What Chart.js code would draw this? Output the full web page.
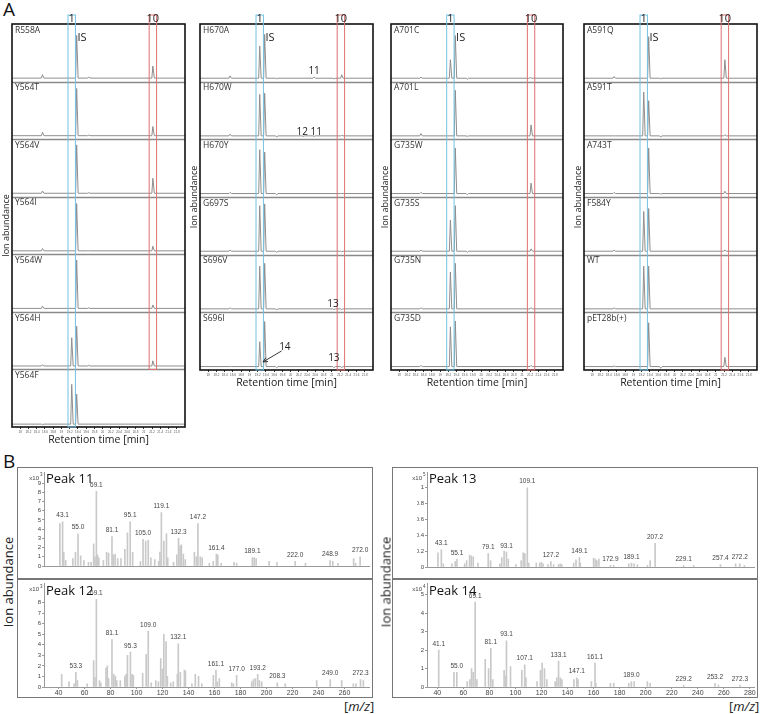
<!DOCTYPE html>
<html>
<head>
<meta charset="utf-8">
<script src="https://cdn.jsdelivr.net/npm/chart.js@4.4.1/dist/chart.umd.min.js"></script>
<style>
  body { margin: 0; width: 760px; height: 714px; background: #fff; position: relative; overflow: hidden;
         font-family: 'Open Sans', 'Noto Sans', sans-serif; }
  canvas { position: absolute; }
  .letter { position: absolute; font-size: 19px; color: #111; line-height: 1; }
  .frame { position: absolute; border: 1.5px solid #777; box-sizing: border-box; }
  .rule { position: absolute; height: 1.5px; background: #777; }
  .mz { position: absolute; font-size: 13px; color: #222; line-height: 1; }
  .ylab { position: absolute; font-size: 13px; color: #222; line-height: 1; white-space: nowrap;
          transform: translate(-50%, -50%) rotate(-90deg); }
</style>
</head>
<body>
<div class="letter" style="left:3px;top:0px">A</div>
<div class="letter" style="left:3px;top:452px">B</div>

<canvas id="col1" width="188" height="450" style="left:0;top:0"></canvas>
<canvas id="col2" width="186" height="393" style="left:190px;top:0"></canvas>
<canvas id="col3" width="186" height="393" style="left:380px;top:0"></canvas>
<canvas id="col4" width="188" height="393" style="left:572px;top:0"></canvas>

<div class="frame" style="left:17px;top:467px;width:356px;height:231px"></div>
<div class="frame" style="left:392px;top:467px;width:366px;height:231px"></div>
<canvas id="pk11" width="355" height="112" style="left:17px;top:467px"></canvas>
<canvas id="pk12" width="355" height="118" style="left:17px;top:579px"></canvas>
<canvas id="pk13" width="365" height="112" style="left:392px;top:467px"></canvas>
<canvas id="pk14" width="365" height="118" style="left:392px;top:579px"></canvas>
<div class="rule" style="left:17px;top:578px;width:356px"></div>
<div class="rule" style="left:392px;top:578px;width:366px"></div>
<div class="mz" style="left:344px;top:700px">[<i>m/z</i>]</div>
<div class="mz" style="left:729px;top:700px">[<i>m/z</i>]</div>
<div class="ylab" style="left:8px;top:582px">Ion abundance</div>
<div class="ylab" style="left:386px;top:582px">Ion abundance</div>

<script>
// ─── PANEL A: chromatograms ──────────────────────────────
const RT_MIN = 17.8, RT_MAX = 22.0;
const rtTicks = [18, 18.2, 18.4, 18.6, 18.8, 19, 19.2, 19.4, 19.6, 19.8,
                 20, 20.2, 20.4, 20.6, 20.8, 21, 21.2, 21.4, 21.6, 21.8];
const rtTickLabels = ['18', '18.2', '18.4', '18.6', '18.8', '19', '19.2', '19.4', '19.6', '19.8',
                      '20', '20.2', '20.4', '20.6', '20.8', '21', '21.2', '21.4', '21.6', '21.8'];
const box1 = [19.16, 19.34];    // peak 1 window
const box10 = [21.13, 21.31];   // peak 10 window

// peaks per trace: [retention time, height in % of the trace]
const col1Names = ['R558A', 'Y564T', 'Y564V', 'Y564I', 'Y564W', 'Y564H', 'Y564F'];
const col1Base = [6, 6, 6, 6, 6, 6, 5];
const col1Peaks = [
  [[18.54, 12], [19.37, 80], [19.66, 8], [21.22, 27]],
  [[18.54, 12], [19.37, 88], [19.66, 7], [21.22, 22]],
  [[18.54, 10], [19.37, 90], [19.66, 7], [21.22, 32]],
  [[18.54, 10], [19.37, 88], [19.66, 6], [21.22, 14]],
  [[18.54, 10], [19.37, 90], [19.66, 7], [21.22, 12]],
  [[18.54, 8], [19.25, 55], [19.37, 75], [19.66, 7], [21.22, 15]],
  [[18.54, 4], [19.25, 74], [19.37, 57]],
];

const col2Names = ['H670A', 'H670W', 'H670Y', 'G697S', 'S696V', 'S696I'];
const col2Base = [6, 6, 6, 6, 6, 6];
const col2Peaks = [
  [[18.53, 10], [19.25, 62], [19.37, 82], [19.66, 5], [20.57, 8], [21.05, 5], [21.24, 12]],
  [[18.53, 9], [19.25, 78], [19.37, 80], [19.66, 4], [20.3, 5], [20.57, 5], [21.24, 7]],
  [[18.53, 8], [19.25, 82], [19.37, 78], [19.66, 4], [21.24, 6]],
  [[18.53, 8], [19.25, 85], [19.37, 88], [19.66, 4], [21.24, 5]],
  [[18.53, 8], [19.25, 80], [19.37, 85], [19.66, 4], [21.05, 5], [21.24, 5]],
  [[18.53, 6], [19.25, 49], [19.37, 84], [19.66, 4], [21.05, 4], [21.24, 4]],
];
// [trace, rt, height, text]
const col2Notes = [
  [0, 20.57, 19, '11'], [1, 20.28, 12, '12'], [1, 20.62, 12, '11'],
  [4, 21.03, 15, '13'], [5, 21.05, 20, '13'], [5, 19.86, 39, '14'],
];

const col3Names = ['A701C', 'A701L', 'G735W', 'G735S', 'G735N', 'G735D'];
const col3Base = [6, 6, 6, 6, 6, 6];
const col3Peaks = [
  [[18.53, 8], [19.25, 38], [19.37, 80], [19.66, 4], [21.2, 7]],
  [[18.53, 10], [19.37, 85], [19.66, 5], [21.22, 25]],
  [[18.53, 8], [19.37, 85], [19.66, 4], [21.22, 24]],
  [[18.53, 8], [19.25, 60], [19.37, 85], [19.66, 4], [21.22, 10]],
  [[18.53, 8], [19.25, 70], [19.37, 85], [21.22, 8]],
  [[18.53, 8], [19.25, 75], [19.37, 85], [21.22, 8]],
];

const col4Names = ['A591Q', 'A591T', 'A743T', 'F584Y', 'WT', 'pET28b(+)'];
const col4Base = [6, 6, 6, 6, 6, 6];
const col4Peaks = [
  [[18.53, 9], [19.37, 78], [19.66, 5], [21.22, 38]],
  [[18.53, 6], [19.25, 82], [19.37, 67], [19.66, 4], [21.22, 8]],
  [[18.53, 8], [19.37, 85], [19.66, 5], [21.22, 10]],
  [[18.53, 8], [19.25, 75], [19.37, 80], [21.22, 8]],
  [[18.53, 8], [19.25, 80], [19.37, 80], [21.22, 6]],
  [[18.53, 7], [19.37, 82], [19.66, 3], [21.22, 22]],
];

// ─── PANEL B: mass spectra [m/z, abundance] ──────────────
const mzTicksLeft = [40, 60, 80, 100, 120, 140, 160, 180, 200, 220, 240, 260];
const mzTicksRight = [40, 60, 80, 100, 120, 140, 160, 180, 200, 220, 240, 260, 280];
const abTicks1e3a = [0, 1, 2, 3, 4, 5, 6, 7, 8, 9];
const abTicks1e3b = [0, 1, 2, 3, 4, 5, 6, 7, 8];
const abTicks1e5 = [0, 0.2, 0.4, 0.6, 0.8, 1];
const abTicks1e4 = [0, 1, 2, 3, 4, 5];

const pk11Mz = [41, 43.1, 44, 45.5, 51, 53, 55.0, 57, 59.5, 63, 65, 67, 68, 69.1, 70, 71, 74.5, 77, 78.5,
  81.1, 82, 83.5, 85.5, 88, 91, 93, 95.1, 97, 103, 105.0, 107, 109, 111, 114, 117, 118, 119.1, 121, 123,
  124, 128.5, 131, 132.3, 133.5, 134.5, 136, 137.5, 144.5, 146, 147.2, 149, 150.5, 156, 159, 161.4, 162.5,
  165, 175, 177, 189.1, 190.5, 192, 202, 208, 222.0, 230, 248.9, 251, 255, 267, 268.5, 272.0];
const pk11Ab = [4.6, 4.8, 1.5, 0.6, 0.8, 1.5, 3.5, 1.1, 0.6, 0.4, 0.4, 2.4, 1.0, 8.1, 1.2, 0.9, 0.6, 1.5, 1.4,
  3.2, 1.2, 1.3, 0.8, 0.8, 1.8, 3.6, 4.8, 1.5, 0.5, 2.9, 2.7, 2.8, 0.9, 0.7, 0.5, 1.5, 5.8, 2.7, 3.5,
  0.9, 0.4, 1.2, 3.0, 2.2, 2.3, 1.3, 0.7, 1.5, 1.0, 4.6, 1.0, 0.9, 0.3, 0.5, 1.3, 1.2,
  0.3, 0.4, 0.3, 0.9, 0.9, 0.8, 0.5, 0.4, 0.5, 0.3, 0.6, 0.5, 0.3, 0.8, 0.3, 1.0];
const pk11Tags = ['43.1', '55.0', '69.1', '81.1', '95.1', '105.0', '119.1', '132.3', '147.2', '161.4',
  '189.1', '222.0', '248.9', '272.0'];

const pk12Mz = [42.4, 48, 52, 53.3, 54.5, 62, 67, 68, 69.1, 71.5, 72.5, 76.5, 77.5, 78.5, 81.1, 82.5, 83.7,
  84.8, 87.5, 91, 92, 93, 95.3, 96.5, 97.5, 104.7, 107.4, 109.0, 111.3, 114.8, 116.8, 118.6, 119.9, 121,
  122.7, 123.7, 126.3, 128.3, 131.4, 132.1, 133.7, 136.8, 137.6, 142.6, 145.2, 147.7, 150.2, 159.1, 161.1,
  162.2, 163.7, 173.2, 174.5, 177.0, 188.6, 189.9, 191.4, 193.2, 194.5, 196.3, 208.3, 214.4, 238.6, 249.0,
  257.8, 266.8, 268.8, 272.3, 274.5];
const pk12Ab = [1.2, 0.5, 0.3, 1.4, 0.6, 0.3, 2.5, 0.9, 8.3, 0.6, 0.4, 1.8, 2.0, 0.8, 4.5, 1.2, 1.0,
  0.6, 0.6, 1.0, 1.2, 3.0, 3.3, 1.2, 1.1, 1.3, 3.1, 5.3, 0.4, 0.6, 0.5, 2.7, 1.7, 5.0,
  4.3, 1.0, 0.4, 0.5, 1.2, 4.1, 1.4, 1.6, 1.5, 0.3, 1.2, 1.0, 0.3, 1.1, 1.6,
  0.5, 0.8, 0.4, 0.3, 1.1, 0.5, 0.7, 0.8, 1.2, 0.6, 0.5, 0.4, 0.3, 0.6, 0.7,
  0.6, 0.3, 0.3, 0.7, 0.6];
const pk12Tags = ['53.3', '69.1', '81.1', '95.3', '109.0', '132.1', '161.1', '177.0', '193.2', '208.3',
  '249.0', '272.3'];

const pk13Mz = [40.5, 43.1, 44.6, 51.3, 53.8, 55.1, 61, 62.5, 64.8, 66.1, 67.6, 71.2, 79.1, 80.9, 88, 89.5,
  91.3, 93.1, 94.5, 100.3, 104.4, 106, 107.2, 109.1, 110.2, 116, 118.6, 119.9, 121.2, 125, 127.2, 129.3,
  133.1, 134.4, 135.7, 144.7, 146.5, 149.1, 149.8, 160, 161.3, 162.5, 164.1, 172.9, 175.5, 187, 189.1,
  191.1, 193.6, 201.3, 203.4, 207.2, 229.1, 236.8, 257.4, 269, 272.2, 275.8];
const pk13Ab = [0.18, 0.22, 0.04, 0.04, 0.07, 0.10, 0.04, 0.08, 0.15, 0.14, 0.13, 0.05, 0.17, 0.08, 0.04, 0.12,
  0.20, 0.19, 0.10, 0.03, 0.08, 0.18, 0.17, 1.00, 0.05, 0.05, 0.05, 0.06, 0.04, 0.03, 0.07, 0.03,
  0.03, 0.04, 0.03, 0.05, 0.09, 0.12, 0.05, 0.11, 0.10, 0.08, 0.10, 0.02, 0.02, 0.04, 0.05,
  0.04, 0.03, 0.02, 0.08, 0.30, 0.02, 0.02, 0.03, 0.04, 0.04, 0.02];
const pk13Tags = ['43.1', '55.1', '79.1', '93.1', '109.1', '127.2', '149.1', '172.9', '189.1', '207.2',
  '229.1', '257.4', '272.2'];

const pk14Mz = [41.1, 52.8, 55.0, 63, 65, 66.3, 67.6, 69.1, 70.4, 76.8, 79.4, 81.1, 82.6, 91.3, 92.6, 93.1,
  96.2, 104.9, 107.1, 108.1, 116.6, 119.2, 120.5, 122.3, 124.1, 130.5, 131.8, 133.1, 134.4, 135.7, 144.9,
  147.1, 148, 158.3, 161.1, 161.7, 172.9, 175.5, 187, 189.0, 191.1, 201.3, 203.4, 229.2, 253.2, 255.8, 272.3];
const pk14Ab = [2.0, 0.8, 0.8, 0.3, 0.4, 1.0, 0.8, 4.6, 0.4, 1.5, 1.0, 2.1, 0.4, 0.9, 0.6, 2.5,
  1.1, 0.9, 1.2, 0.5, 0.3, 0.9, 1.3, 1.0, 0.4, 0.3, 0.5, 1.4, 0.5, 0.4, 0.4,
  0.5, 0.4, 0.3, 1.3, 0.2, 0.2, 0.2, 0.2, 0.3, 0.3, 0.3, 0.2, 0.1, 0.2, 0.1, 0.1];
const pk14Tags = ['41.1', '55.0', '69.1', '81.1', '93.1', '107.1', '133.1', '147.1', '161.1', '189.0',
  '229.2', '253.2', '272.3'];

// ─── CHROMATOGRAM COLUMN ─────────────────────────────────
function traceLine(peaks, base) {
  const pts = [{ x: RT_MIN, y: base }];
  peaks.forEach(([t, h]) => {
    pts.push({ x: t - 0.025, y: base }, { x: t, y: h }, { x: t + 0.035, y: base });
  });
  pts.push({ x: RT_MAX, y: base });
  return pts;
}

const chromaDeco = {
  id: 'chromaDeco',
  afterDatasetsDraw(chart, args, o) {
    const { ctx, chartArea: a, scales } = chart;
    const x = scales.x;
    const n = o.names.length;
    ctx.save();
    // dividers between traces
    ctx.strokeStyle = '#8a8a8a';
    ctx.lineWidth = 1.5;
    for (let i = 0; i < n - 1; i++) {
      const yb = Math.round(scales['y' + i].bottom) + 0.5;
      ctx.beginPath(); ctx.moveTo(a.left, yb); ctx.lineTo(a.right, yb); ctx.stroke();
    }
    // trace names
    ctx.fillStyle = '#333';
    ctx.font = "8.5px 'Open Sans', sans-serif";
    ctx.textBaseline = 'top';
    ctx.textAlign = 'left';
    o.names.forEach((nm, i) => ctx.fillText(nm, a.left + 3, scales['y' + i].top + 2));
    // frame
    ctx.strokeStyle = '#111';
    ctx.lineWidth = 1.6;
    ctx.strokeRect(a.left, a.top, a.right - a.left, a.bottom - a.top);
    // highlight windows
    const top = a.top - 9;
    ctx.lineWidth = 1;
    ctx.strokeStyle = '#72c2e0';
    ctx.strokeRect(x.getPixelForValue(box1[0]), top,
      x.getPixelForValue(box1[1]) - x.getPixelForValue(box1[0]), a.bottom - top);
    ctx.strokeStyle = '#e07070';
    const redBottom = scales['y' + (o.redCount - 1)].bottom;
    ctx.strokeRect(x.getPixelForValue(box10[0]), top,
      x.getPixelForValue(box10[1]) - x.getPixelForValue(box10[0]), redBottom - top);
    ctx.fillStyle = '#222';
    ctx.font = "11px 'Open Sans', sans-serif";
    ctx.textAlign = 'center';
    ctx.textBaseline = 'middle';
    ctx.fillText('1', x.getPixelForValue((box1[0] + box1[1]) / 2), top + 4);
    ctx.fillText('10', x.getPixelForValue((box10[0] + box10[1]) / 2), top + 4);
    // IS label
    ctx.textAlign = 'left';
    ctx.font = "11px 'Open Sans', sans-serif";
    ctx.fillText('IS', x.getPixelForValue(19.39), scales.y0.getPixelForValue(76));
    // peak numbers
    ctx.font = "10px 'Open Sans', sans-serif";
    ctx.textAlign = 'center';
    (o.notes || []).forEach(([ti, t, h, txt]) => {
      ctx.fillText(txt, x.getPixelForValue(t), scales['y' + ti].getPixelForValue(h));
    });
    if (o.arrow) {
      const [ti, t0, h0, t1, h1] = o.arrow;
      const ys = scales['y' + ti];
      const x0 = x.getPixelForValue(t0), y0 = ys.getPixelForValue(h0);
      const x1 = x.getPixelForValue(t1), y1 = ys.getPixelForValue(h1);
      ctx.strokeStyle = '#222';
      ctx.lineWidth = 0.9;
      ctx.beginPath(); ctx.moveTo(x0, y0); ctx.lineTo(x1, y1); ctx.stroke();
      const ang = Math.atan2(y1 - y0, x1 - x0);
      ctx.beginPath();
      ctx.moveTo(x1, y1);
      ctx.lineTo(x1 - 5 * Math.cos(ang - 0.45), y1 - 5 * Math.sin(ang - 0.45));
      ctx.moveTo(x1, y1);
      ctx.lineTo(x1 - 5 * Math.cos(ang + 0.45), y1 - 5 * Math.sin(ang + 0.45));
      ctx.stroke();
    }
    // axis title
    ctx.save();
    ctx.translate(a.left - 6, (a.top + a.bottom) / 2);
    ctx.rotate(-Math.PI / 2);
    ctx.font = "9px 'Open Sans', sans-serif";
    ctx.fillStyle = '#222';
    ctx.textAlign = 'center';
    ctx.textBaseline = 'middle';
    ctx.fillText('Ion abundance', 0, 0);
    ctx.restore();
    ctx.restore();
  }
};

function buildColumn(id, names, bases, peaks, pad, extra) {
  const scales = {
    x: {
      type: 'linear', min: RT_MIN, max: RT_MAX,
      afterBuildTicks: s => { s.ticks = rtTicks.map(v => ({ value: v })); },
      afterFit: s => { s.height = 21; },
      grid: { display: true, drawOnChartArea: false, tickLength: 2, color: '#333' },
      border: { display: false },
      ticks: { autoSkip: false, maxRotation: 0, padding: 1, color: '#555',
               font: { size: 3 }, callback: (v, i) => rtTickLabels[i] },
      title: { display: true, text: 'Retention time [min]', color: '#222',
               font: { size: 10.5, family: "'Open Sans', sans-serif" }, padding: { top: 0, bottom: 2 } },
    },
  };
  names.forEach((nm, i) => {
    scales['y' + i] = { type: 'linear', min: 0, max: 100, display: false,
                        position: 'right', stack: 'traces', stackWeight: 1 };
  });
  new Chart(document.getElementById(id), {
    type: 'line',
    data: {
      datasets: peaks.map((p, i) => ({
        data: traceLine(p, bases[i]), yAxisID: 'y' + i,
        borderColor: '#8e8e8e', borderWidth: 1, pointRadius: 0, tension: 0,
      })),
    },
    options: {
      responsive: false, animation: false,
      layout: { padding: pad },
      plugins: { legend: { display: false }, tooltip: { enabled: false },
                 chromaDeco: Object.assign({ names }, extra) },
      scales,
    },
    plugins: [chromaDeco],
  });
}

// ─── MASS SPECTRUM ───────────────────────────────────────
const specDeco = {
  id: 'specDeco',
  afterDatasetsDraw(chart, args, o) {
    const { ctx, chartArea: a, scales: { x, y } } = chart;
    const pts = chart.data.datasets[0].data;
    ctx.save();
    // zero line
    ctx.strokeStyle = '#999';
    ctx.lineWidth = 1;
    const y0 = Math.round(y.getPixelForValue(0)) + 0.5;
    ctx.beginPath(); ctx.moveTo(a.left, y0); ctx.lineTo(a.right, y0); ctx.stroke();
    // peak labels
    ctx.fillStyle = '#444';
    ctx.font = "6.5px 'Liberation Sans', Arial, sans-serif";
    ctx.textAlign = 'center';
    ctx.textBaseline = 'bottom';
    o.tags.forEach(t => {
      const v = parseFloat(t);
      let best = pts[0];
      pts.forEach(p => { if (Math.abs(p.x - v) < Math.abs(best.x - v)) best = p; });
      ctx.fillText(t, x.getPixelForValue(v), y.getPixelForValue(best.y) - 3);
    });
    // title + multiplier
    ctx.fillStyle = '#111';
    ctx.font = "13px 'Open Sans', sans-serif";
    ctx.textAlign = 'left';
    ctx.textBaseline = 'top';
    ctx.fillText(o.title, a.left + 2, a.top + 1);
    ctx.fillStyle = '#444';
    ctx.font = "6px 'Liberation Sans', Arial, sans-serif";
    ctx.textAlign = 'right';
    ctx.fillText('x10', a.left - 5, a.top + 3);
    ctx.font = "4.5px 'Liberation Sans', Arial, sans-serif";
    ctx.textAlign = 'left';
    ctx.fillText(o.exp, a.left - 4, a.top + 1);
    ctx.restore();
  }
};

function buildSpectrum(id, mz, ab, tags, cfg) {
  new Chart(document.getElementById(id), {
    type: 'bar',
    data: { datasets: [{ data: mz.map((m, i) => ({ x: m, y: ab[i] })),
                         backgroundColor: '#c9c9c9', barThickness: 1 }] },
    options: {
      responsive: false, animation: false,
      layout: { padding: cfg.pad },
      plugins: { legend: { display: false }, tooltip: { enabled: false },
                 specDeco: { tags, title: cfg.title, exp: cfg.exp } },
      scales: {
        x: {
          type: 'linear', offset: false, min: cfg.xmin, max: cfg.xmax, display: cfg.showX,
          afterBuildTicks: s => { s.ticks = cfg.xticks.map(v => ({ value: v })); },
          afterFit: s => { s.height = 10; },
          grid: { display: true, drawOnChartArea: false, tickLength: 2, color: '#999', offset: false },
          border: { display: false },
          ticks: { autoSkip: false, padding: 0, color: '#444', maxRotation: 0,
                   font: { size: 7, family: "'Liberation Sans', Arial, sans-serif" } },
        },
        y: {
          min: 0, max: cfg.ymax,
          afterBuildTicks: s => { s.ticks = cfg.yticks.map(v => ({ value: v })); },
          afterFit: s => { s.width = 10; },
          grid: { display: true, drawOnChartArea: false, tickLength: 2, color: '#999' },
          border: { display: true, color: '#999' },
          ticks: { autoSkip: false, padding: 1, color: '#444',
                   font: { size: 6, family: "'Liberation Sans', Arial, sans-serif" },
                   callback: v => String(+v.toFixed(1)) },
        },
      },
    },
    plugins: [specDeco],
  });
}

// ─── INIT ────────────────────────────────────────────────
buildColumn('col1', col1Names, col1Base, col1Peaks,
  { left: 12, right: 3, top: 24, bottom: 2 }, { redCount: 6 });
buildColumn('col2', col2Names, col2Base, col2Peaks,
  { left: 10, right: 3, top: 24, bottom: 2 },
  { redCount: 6, notes: col2Notes, arrow: [5, 19.78, 33, 19.33, 14] });
buildColumn('col3', col3Names, col3Base, col3Peaks,
  { left: 11, right: 3, top: 24, bottom: 2 }, { redCount: 6 });
buildColumn('col4', col4Names, col4Base, col4Peaks,
  { left: 12, right: 3, top: 24, bottom: 2 }, { redCount: 6 });

buildSpectrum('pk11', pk11Mz, pk11Ab, pk11Tags,
  { pad: { left: 17, right: 2, top: 5, bottom: 3 }, xmin: 28.8, xmax: 279.6, showX: false,
    xticks: mzTicksLeft, yticks: abTicks1e3a, ymax: 10.2, title: 'Peak 11', exp: '3' });
buildSpectrum('pk12', pk12Mz, pk12Ab, pk12Tags,
  { pad: { left: 17, right: 2, top: 3, bottom: 0 }, xmin: 28.8, xmax: 279.6, showX: true,
    xticks: mzTicksLeft, yticks: abTicks1e3b, ymax: 9.8, title: 'Peak 12', exp: '3' });
buildSpectrum('pk13', pk13Mz, pk13Ab, pk13Tags,
  { pad: { left: 25, right: 2, top: 5, bottom: 2 }, xmin: 32.1, xmax: 283.9, showX: false,
    xticks: mzTicksRight, yticks: abTicks1e5, ymax: 1.2, title: 'Peak 13', exp: '5' });
buildSpectrum('pk14', pk14Mz, pk14Ab, pk14Tags,
  { pad: { left: 25, right: 2, top: 4, bottom: 0 }, xmin: 32.1, xmax: 283.9, showX: true,
    xticks: mzTicksRight, yticks: abTicks1e4, ymax: 5.6, title: 'Peak 14', exp: '4' });
</script>
</body>
</html>
